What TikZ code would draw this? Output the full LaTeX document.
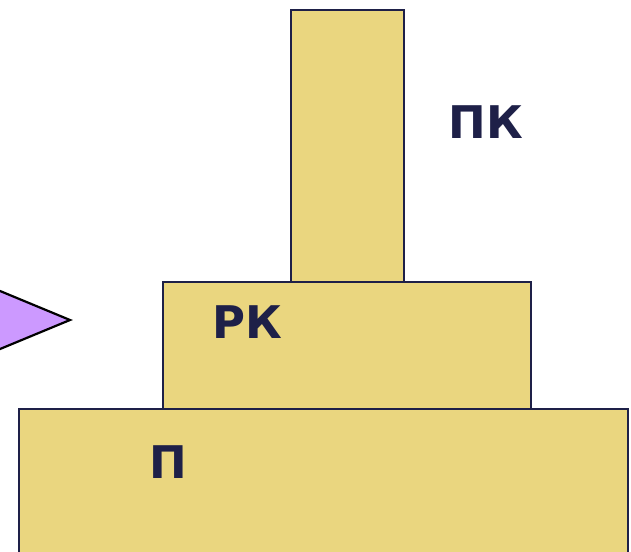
\documentclass[tikz,border=0pt]{standalone}
\usepackage{fontspec}
\setsansfont{DejaVu Sans}
\usetikzlibrary{positioning}
\definecolor{sand}{HTML}{EAD67F}
\definecolor{lilac}{HTML}{CC99FF}
\definecolor{navy}{HTML}{1E2048}
\tikzset{
  tier/.style={rectangle,draw=navy,fill=sand,line width=2.6pt,inner sep=0pt},
  tag/.style={text=navy,font=\sffamily\bfseries\fontsize{45}{48}\selectfont,inner sep=0pt},
  pointer/.style={draw=black,fill=lilac,line width=2.2pt,line join=miter}
}
\begin{document}
\begin{tikzpicture}[x=1pt,y=-1pt]
\useasboundingbox (0,0) rectangle (631,551);
\node[tier, minimum width=113pt, minimum height=272pt] (top) at (347.5,146) {};
\node[tier, minimum width=368pt, minimum height=127pt] (mid) at (347,345.5) {};
\node[tier, minimum width=609pt, minimum height=160pt] (base) at (323.5,489) {};
\node[tag] (pk) at (486,122) {ПК};
\node[tag] (rk) at (247,322) {РК};
\node[tag] (p) at (168,462) {П};
\draw[pointer] (-40,274.4) -- (70,320) -- (-40,365.6) -- cycle;
\end{tikzpicture}
\end{document}
